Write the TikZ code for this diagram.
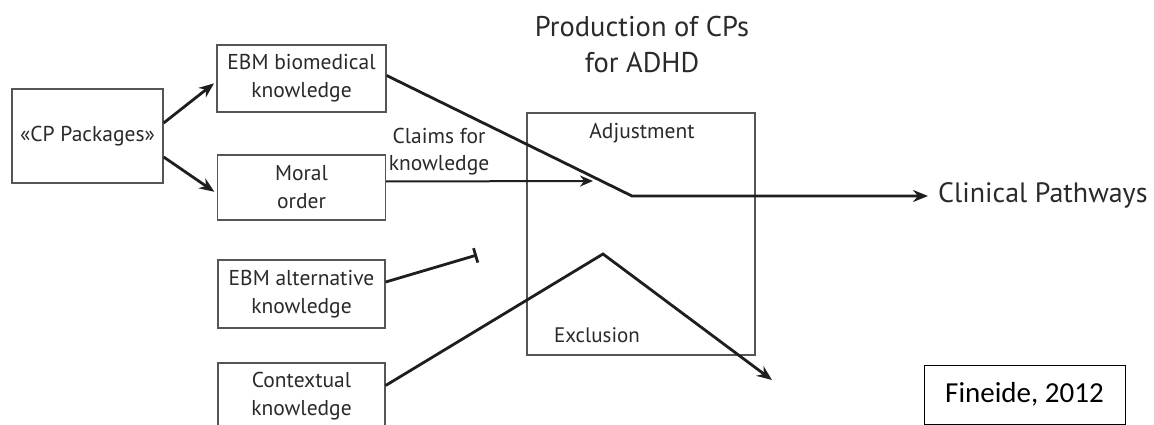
\documentclass[tikz,border=0pt]{standalone}
\usepackage{fontspec}
\setmainfont{PT Sans}
\newfontfamily\calibri{Carlito}
\usetikzlibrary{arrows.meta,calc}
\definecolor{txt}{HTML}{2A2A2A}
\definecolor{boxgray}{HTML}{555555}
\definecolor{ln}{HTML}{1E1E1E}
\begin{document}
\begin{tikzpicture}[x=1pt,y=-1pt,
  box/.style={draw=boxgray, line width=1.3pt, align=center, inner sep=0pt,
    font=\fontsize{21.5}{28}\selectfont, text=txt},
  conn/.style={draw=ln, line width=2.8pt},
  tipa/.style={-{Stealth[length=15pt,width=12pt]}},
  lbl/.style={text=txt, align=center, inner sep=0pt},
]
\useasboundingbox (0,0) rectangle (1154,425);
\clip (0,0) rectangle (1154,425);
\fill[white] (0,0) rectangle (1154,425);

% boxes
\node[box, minimum width=151pt, minimum height=94pt] (cp) at (87.5,136) {«CP Packages»};
\node[box, minimum width=169pt, minimum height=67pt] (ebm) at (301.5,78.5) {EBM biomedical\\knowledge};
\node[box, minimum width=168pt, minimum height=65pt] (moral) at (301.5,187.5) {Moral\\order};
\node[box, minimum width=167pt, minimum height=68pt] (alt) at (301.5,294) {EBM alternative\\knowledge};
\node[box, minimum width=167pt, minimum height=67pt] (ctx) at (301.5,396.5) {Contextual\\knowledge};
\node[draw=boxgray, line width=1.3pt, minimum width=228pt, minimum height=242pt, inner sep=0pt] (prod) at (641,234) {};

% labels
\node[lbl, font=\fontsize{28.5}{36}\selectfont] (title) at (642,45) {Production of CPs\\for ADHD};
\node[lbl, font=\fontsize{21.5}{26}\selectfont] (adj) at (642,133) {Adjustment};
\node[lbl, font=\fontsize{21}{26}\selectfont] (excl) at (597,335) {Exclusion};
\node[lbl, font=\fontsize{21.5}{27}\selectfont] (claims) at (439,152) {Claims for\\knowledge};
\node[lbl, font=\fontsize{28}{32}\selectfont, anchor=west] (clin) at (938,195) {Clinical Pathways};
\node[draw=black, line width=1pt, minimum width=201pt, minimum height=59pt, inner sep=0pt,
  font=\calibri\fontsize{29}{34}\selectfont] (fin) at (1024.5,394.5) {Fineide, 2012};

% coordinates
\coordinate (bend) at (632,196);
\coordinate (madj) at (593,181);
\coordinate (bar) at (477,255);
\coordinate (peak) at (603,254);
\coordinate (excltip) at (772,380);

% connectors
\draw[conn, tipa, shorten >=3pt] ([yshift=13pt]cp.east) -- ([yshift=-3pt]ebm.west);
\draw[conn, tipa, shorten >=3pt] ([yshift=-21pt]cp.east) -- ([yshift=-6pt]moral.west);
\draw[conn, tipa, shorten >=10pt] ([yshift=3pt]ebm.east) -- (bend) -- (bend -| clin.west);
\draw[draw=ln, line width=2pt, -{Stealth[length=13pt,width=11pt]}] ([yshift=6pt]moral.east) -- (madj);
\draw[conn, -{Bar[width=15pt,line width=2.8pt]}] ([yshift=12pt]alt.east) -- (bar);
\draw[conn, tipa, line join=miter] ([yshift=11pt]ctx.east) -- (peak) -- (excltip);
\end{tikzpicture}
\end{document}
